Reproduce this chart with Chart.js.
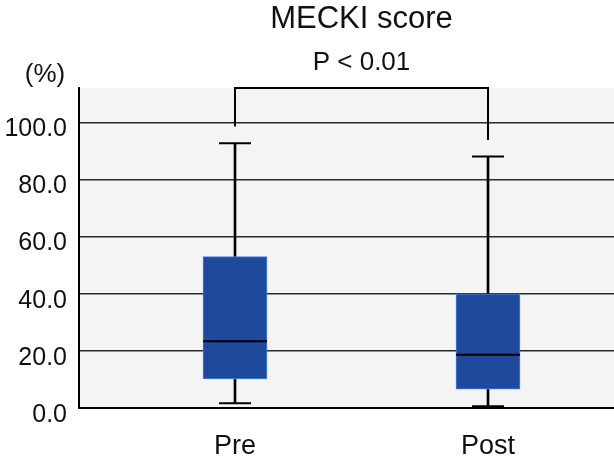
<!DOCTYPE html>
<html>
<head>
<meta charset="utf-8">
<script src="https://cdn.jsdelivr.net/npm/chart.js@4/dist/chart.umd.min.js"></script>
<style>
html,body{margin:0;padding:0;background:#fff;}
canvas{display:block;}
</style>
</head>
<body>
<canvas id="c" width="614" height="458"></canvas>
<script>
const categories = ['Pre', 'Post'];
const whiskerLow = [1.7, 0.6];
const q1 = [10.2, 6.6];
const median = [23.4, 18.6];
const q3 = [53.0, 40.0];
const whiskerHigh = [92.7, 88.0];
const yTicks = [0, 20, 40, 60, 80, 100];
const bracketLegs = [98.5, 93.8];
const bracketTop = 112;
const titleText = 'MECKI score';
const pText = 'P < 0.01';
const unitText = '(%)';

const FONT = "'Liberation Sans', Arial, sans-serif";
const xs = categories.map((_, i) => i + 1);

const boxData = xs.map((x, i) => ({x: x, y: [q1[i], q3[i]]}));
const lowWhisker = xs.map((x, i) => ({x: x, y: [whiskerLow[i], q1[i]]}));
const highWhisker = xs.map((x, i) => ({x: x, y: [q3[i], whiskerHigh[i]]}));
const caps = [];
xs.forEach((x, i) => { caps.push({x: x, y: whiskerLow[i]}); caps.push({x: x, y: whiskerHigh[i]}); });
const medians = xs.map((x, i) => ({x: x, y: median[i]}));
const bracket = [
  {x: xs[0], y: bracketLegs[0]},
  {x: xs[0], y: bracketTop},
  {x: xs[1], y: bracketTop},
  {x: xs[1], y: bracketLegs[1]}
];

const bgPlugin = {
  id: 'bg',
  beforeDraw(chart) {
    const a = chart.chartArea, ctx = chart.ctx;
    ctx.save();
    ctx.fillStyle = '#f4f4f4';
    ctx.fillRect(a.left, a.top, a.right - a.left, a.bottom - a.top);
    ctx.restore();
  }
};

const textPlugin = {
  id: 'texts',
  afterDraw(chart) {
    const ctx = chart.ctx;
    const xs_ = chart.scales.x;
    const mid = (xs_.getPixelForValue(xs[0]) + xs_.getPixelForValue(xs[1])) / 2;
    ctx.save();
    ctx.fillStyle = '#111';
    ctx.textAlign = 'center';
    ctx.textBaseline = 'middle';
    ctx.font = '31px ' + FONT;
    ctx.fillText(titleText, mid, 19);
    ctx.font = '26px ' + FONT;
    ctx.fillText(pText, mid, 63);
    ctx.fillText(unitText, 45, 75);
    ctx.restore();
  }
};

new Chart(document.getElementById('c'), {
  type: 'bar',
  data: {
    datasets: [
      {type: 'bar', data: lowWhisker, backgroundColor: '#000', borderWidth: 0, barThickness: 2, grouped: false, order: 5},
      {type: 'bar', data: highWhisker, backgroundColor: '#000', borderWidth: 0, barThickness: 2, grouped: false, order: 5},
      {type: 'bar', data: boxData, backgroundColor: '#1f4a9c', borderColor: '#4585d8', borderWidth: 1, borderSkipped: false, barThickness: 64, grouped: false, order: 4},
      {type: 'scatter', data: caps, pointStyle: 'line', radius: 16, borderColor: '#000', borderWidth: 2, backgroundColor: '#000', order: 3},
      {type: 'scatter', data: medians, pointStyle: 'line', radius: 32, borderColor: '#000', borderWidth: 2, backgroundColor: '#000', order: 2},
      {type: 'line', data: bracket, borderColor: '#000', borderWidth: 2, pointRadius: 0, fill: false, tension: 0, clip: false, order: 1}
    ]
  },
  options: {
    responsive: false,
    animation: false,
    events: [],
    layout: {autoPadding: false, padding: {top: 88, right: 0, bottom: 0, left: 0}},
    plugins: {legend: {display: false}, tooltip: {enabled: false}, title: {display: false}},
    scales: {
      x: {
        type: 'linear',
        offset: false,
        min: 0.3834,
        max: 2.498,
        grid: {display: false, drawTicks: false, offset: false},
        border: {display: true, color: '#000', width: 2},
        afterBuildTicks(scale) { scale.ticks = xs.map(v => ({value: v})); },
        afterFit(scale) { scale.height = 50; scale.paddingRight = 0; scale.paddingLeft = 0; },
        ticks: {
          padding: 22,
          color: '#111',
          font: {family: FONT, size: 27},
          callback: (v) => categories[Math.round(v) - 1] || ''
        }
      },
      y: {
        type: 'linear',
        min: 0,
        max: bracketTop,
        afterBuildTicks(scale) { scale.ticks = yTicks.map(v => ({value: v})); },
        afterFit(scale) { scale.width = 79; },
        grid: {color: '#2a2a2a', lineWidth: 1.5, drawTicks: false},
        border: {display: true, color: '#000', width: 2},
        ticks: {
          padding: 12,
          labelOffset: 7,
          color: '#111',
          font: {family: FONT, size: 25},
          callback: (v) => Number(v).toFixed(1)
        }
      }
    }
  },
  plugins: [bgPlugin, textPlugin]
});
</script>
</body>
</html>
